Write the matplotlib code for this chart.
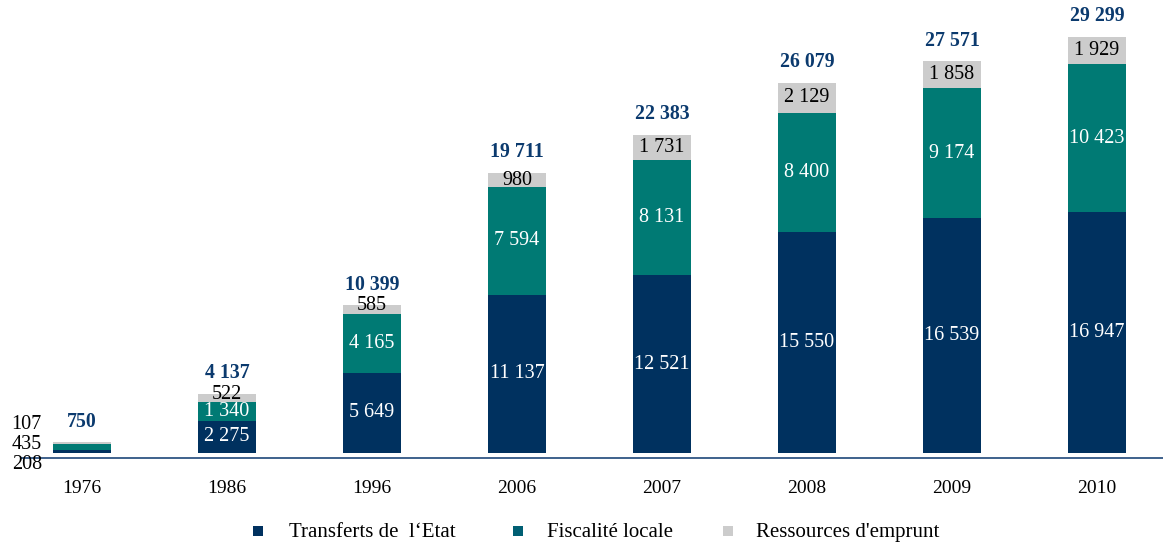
import matplotlib
matplotlib.use("Agg")
import matplotlib.pyplot as plt
from matplotlib.patches import Rectangle

years = ["1976", "1986", "1996", "2006", "2007", "2008", "2009", "2010"]
transferts = [208, 2275, 5649, 11137, 12521, 15550, 16539, 16947]
fiscalite = [435, 1340, 4165, 7594, 8131, 8400, 9174, 10423]
emprunt = [107, 522, 585, 980, 1731, 2129, 1858, 1929]
totals = [750, 4137, 10399, 19711, 22383, 26079, 27571, 29299]
series_names = ["Transferts de  l\u2018Etat", "Fiscalité locale", "Ressources d'emprunt"]

navy = "#00315f"
teal = "#007a74"
grey = "#cccccc"
legend_colors = [navy, "#005f73", grey]

plt.rcParams['font.family'] = ['Liberation Serif', 'DejaVu Serif']

def fmt(v):
    return f"{v:,}".replace(",", " ")

W, H = 1163, 545
fig = plt.figure(figsize=(W / 100, H / 100), dpi=100)
ax = fig.add_axes([22 / W, 87 / H, 1 - 22 / W, 458 / H])

x = list(range(len(years)))
w = 0.4
ax.bar(x, transferts, w, color=navy)
bottom2 = transferts
ax.bar(x, fiscalite, w, bottom=bottom2, color=teal)
bottom3 = [a + b for a, b in zip(transferts, fiscalite)]
ax.bar(x, emprunt, w, bottom=bottom3, color=grey)

fs = 14.5
for i in range(len(years)):
    if i == 0:
        continue
    ax.text(x[i], transferts[i] / 2, fmt(transferts[i]), ha='center', va='center',
            color='white', fontsize=fs)
    ax.text(x[i], bottom2[i] + fiscalite[i] / 2, fmt(fiscalite[i]), ha='center', va='center',
            color='white', fontsize=fs)
    if i <= 2:
        ypos = bottom3[i] + emprunt[i]
    else:
        ypos = bottom3[i] + emprunt[i] / 2
    ax.text(x[i], ypos, fmt(emprunt[i]), ha='center', va='center',
            color='black', fontsize=fs)

for i in range(len(years)):
    ax.annotate(fmt(totals[i]), xy=(x[i], totals[i]), xytext=(0, 15),
                textcoords='offset points', ha='center', va='center',
                color='#0b3a6e', fontsize=14.3, fontweight='bold')

# 1976 side labels
side_vals = [emprunt[0], fiscalite[0], transferts[0]]
side_offsets = [20.5, 6.5, -8.5]
for v, dy in zip(side_vals, side_offsets):
    ax.annotate(fmt(v), xy=(x[0] - w / 2, 0), xytext=(-8, dy),
                textcoords='offset points', ha='right', va='center',
                color='black', fontsize=fs, annotation_clip=False)

ax.set_xlim(-0.414, 7.455)
ax.set_ylim(-350, 31900)
ax.set_xticks(x)
ax.set_xticklabels(years, fontsize=14)
ax.tick_params(axis='x', length=0, pad=16)
ax.set_yticks([])
for s in ['top', 'right', 'left']:
    ax.spines[s].set_visible(False)
ax.spines['bottom'].set_color('#2f5583')
ax.spines['bottom'].set_linewidth(1.3)

# legend drawn manually
marker_x = [253, 513, 723]
text_x = [289, 547, 756]
ly = 531
for mx, tx, c, name in zip(marker_x, text_x, legend_colors, series_names):
    fig.patches.append(Rectangle((mx / W, (H - ly - 5) / H), 10 / W, 10 / H,
                                 transform=fig.transFigure, facecolor=c,
                                 edgecolor='none'))
    fig.text(tx / W, (H - 537) / H, name, ha='left', va='baseline', fontsize=15,
             color='black')

fig.savefig("out.png", dpi=100)
